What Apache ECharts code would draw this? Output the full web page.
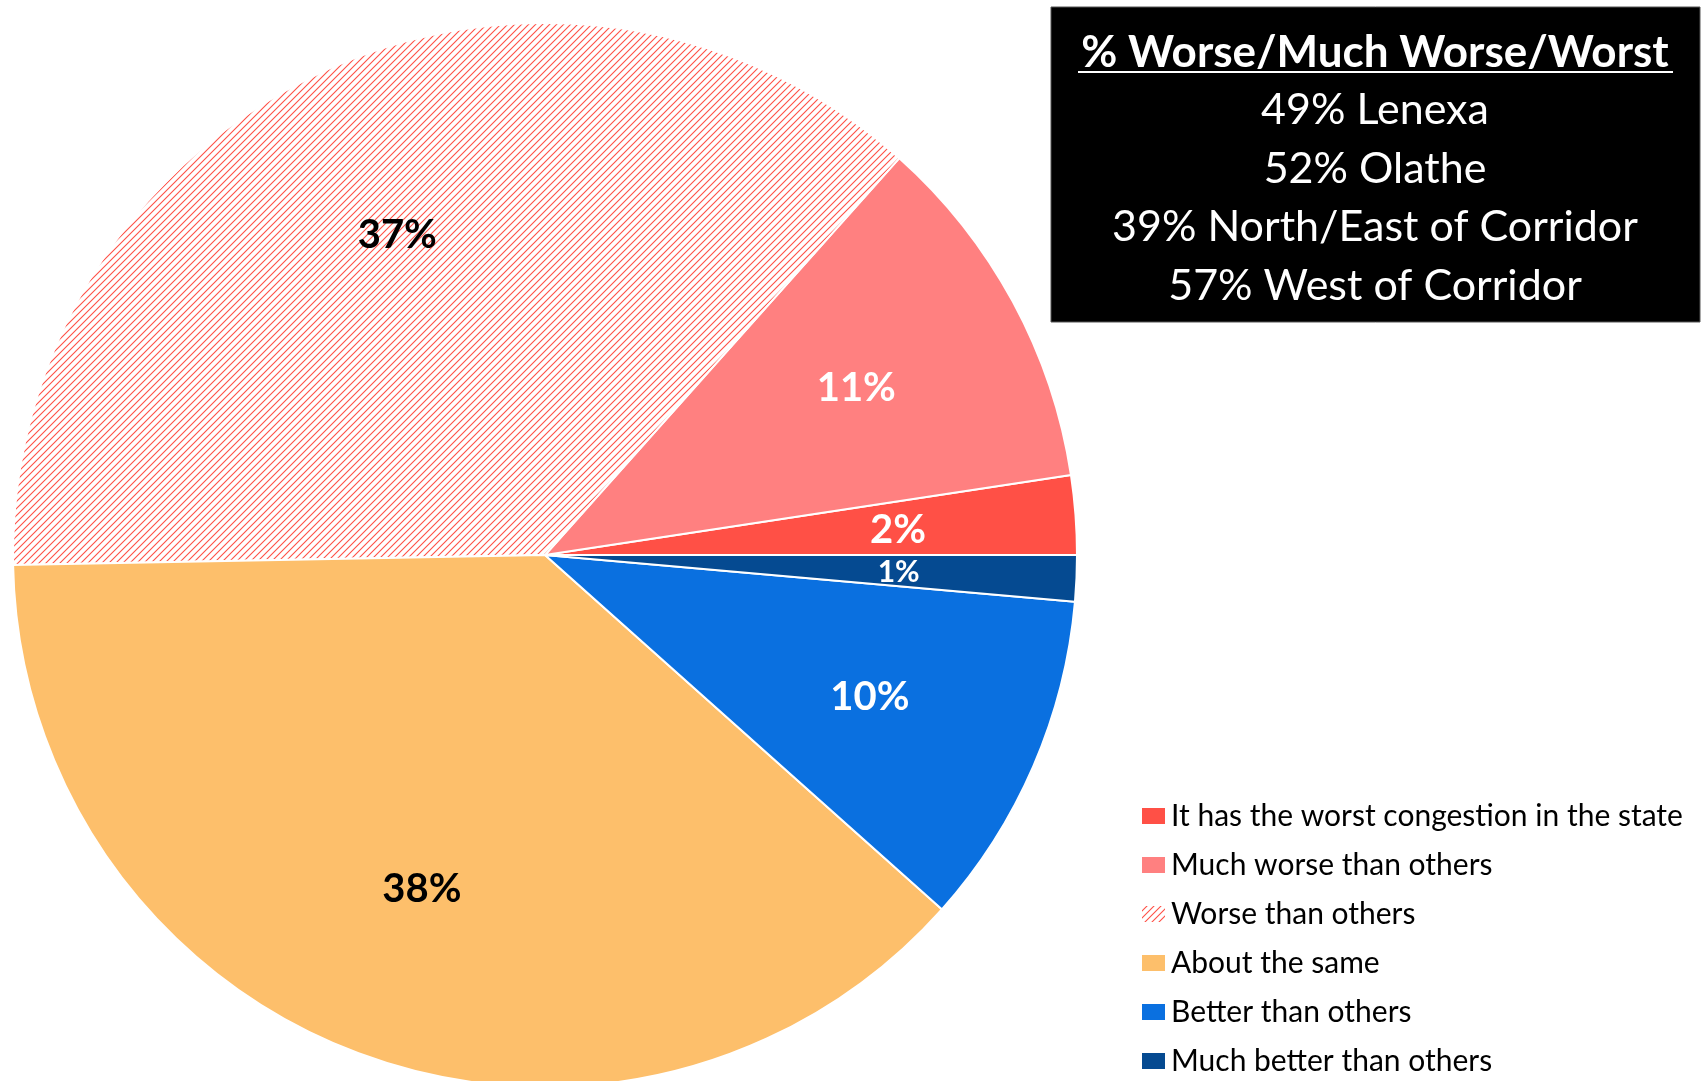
<!DOCTYPE html>
<html>
<head>
<meta charset="utf-8">
<script src="https://cdn.jsdelivr.net/npm/echarts@6/dist/echarts.min.js"></script>
<style>
html, body { margin: 0; padding: 0; background: #fff; }
#main { width: 1703px; height: 1081px; }
</style>
</head>
<body>
<div id="main"></div>
<script>
// data
const categories = [
  'It has the worst congestion in the state',
  'Much worse than others',
  'Worse than others',
  'About the same',
  'Better than others',
  'Much better than others'
]
const values = [2.4, 11.0, 36.9, 38.1, 10.2, 1.4]
const sliceColors = ['#FF5046', '#FF8080', 'hatch', '#FDBF6B', '#0A70E0', '#054A91']
const labelColors = ['#fff', '#fff', '#000', '#000', '#fff', '#fff']
const labelSizes = [40, 40, 40, 40, 40, 30]
const boxTitle = '% Worse/Much Worse/Worst'
const boxLines = ['49% Lenexa', '52% Olathe', '39% North/East of Corridor', '57% West of Corridor']

const FONT = 'Lato, "Open Sans", sans-serif'

// diagonal hatch for "Worse than others"
function makeHatch() {
  const c = document.createElement('canvas')
  c.width = 7
  c.height = 7
  const ctx = c.getContext('2d')
  ctx.strokeStyle = '#FF5046'
  ctx.lineWidth = 1.1
  ctx.beginPath()
  ctx.moveTo(-1, 8); ctx.lineTo(8, -1)
  ctx.moveTo(-1, 1); ctx.lineTo(1, -1)
  ctx.moveTo(6, 8); ctx.lineTo(8, 6)
  ctx.stroke()
  return { image: c, repeat: 'repeat' }
}
const hatch = makeHatch()

const pieData = categories.map((name, i) => ({
  name: name,
  value: values[i],
  itemStyle: { color: sliceColors[i] === 'hatch' ? hatch : sliceColors[i] }
}))
const labelData = categories.map((name, i) => ({
  name: name,
  value: values[i],
  label: { color: labelColors[i], fontSize: labelSizes[i] }
}))

const chart = echarts.init(document.getElementById('main'))
chart.setOption({
  animation: false,
  backgroundColor: '#fff',
  legend: {
    orient: 'vertical',
    left: 1140,
    top: 801,
    height: 300,
    padding: 0,
    itemWidth: 25,
    itemHeight: 18,
    itemGap: 19,
    icon: 'rect',
    data: categories,
    textStyle: { fontFamily: FONT, fontSize: 30, color: '#000', lineHeight: 30 }
  },
  series: [
    {
      type: 'pie',
      center: [545, 555],
      radius: [0, 532],
      startAngle: 0,
      clockwise: false,
      avoidLabelOverlap: false,
      label: { show: false },
      labelLine: { show: false },
      itemStyle: { borderColor: '#fff', borderWidth: 2 },
      emphasis: { disabled: true },
      data: pieData
    },
    {
      // label ring, puts the percentages at about two thirds of the radius
      type: 'pie',
      center: [545, 555],
      radius: [170, 532],
      startAngle: 0,
      clockwise: false,
      silent: true,
      avoidLabelOverlap: false,
      itemStyle: { color: 'rgba(0,0,0,0)' },
      label: {
        show: true,
        position: 'inside',
        offset: [0, 2],
        fontFamily: FONT,
        fontWeight: 'bold',
        formatter: p => Math.round(p.value) + '%'
      },
      labelLine: { show: false },
      emphasis: { disabled: true },
      data: labelData
    }
  ],
  graphic: [
    {
      type: 'rect',
      shape: { x: 1051, y: 7, width: 649, height: 315 },
      style: { fill: '#000', stroke: '#555', lineWidth: 1 }
    },
    {
      type: 'text',
      style: {
        text: boxTitle, x: 1375, y: 53, align: 'center', verticalAlign: 'middle',
        fill: '#fff', font: 'bold 44px ' + FONT
      }
    },
    {
      type: 'line',
      shape: { x1: 1078, y1: 72, x2: 1673, y2: 72 },
      style: { stroke: '#fff', lineWidth: 2 }
    }
  ].concat(boxLines.map((t, i) => ({
    type: 'text',
    style: {
      text: t, x: 1375, y: 110 + i * 58.7, align: 'center', verticalAlign: 'middle',
      fill: '#fff', font: '43px ' + FONT
    }
  })))
})
</script>
</body>
</html>
